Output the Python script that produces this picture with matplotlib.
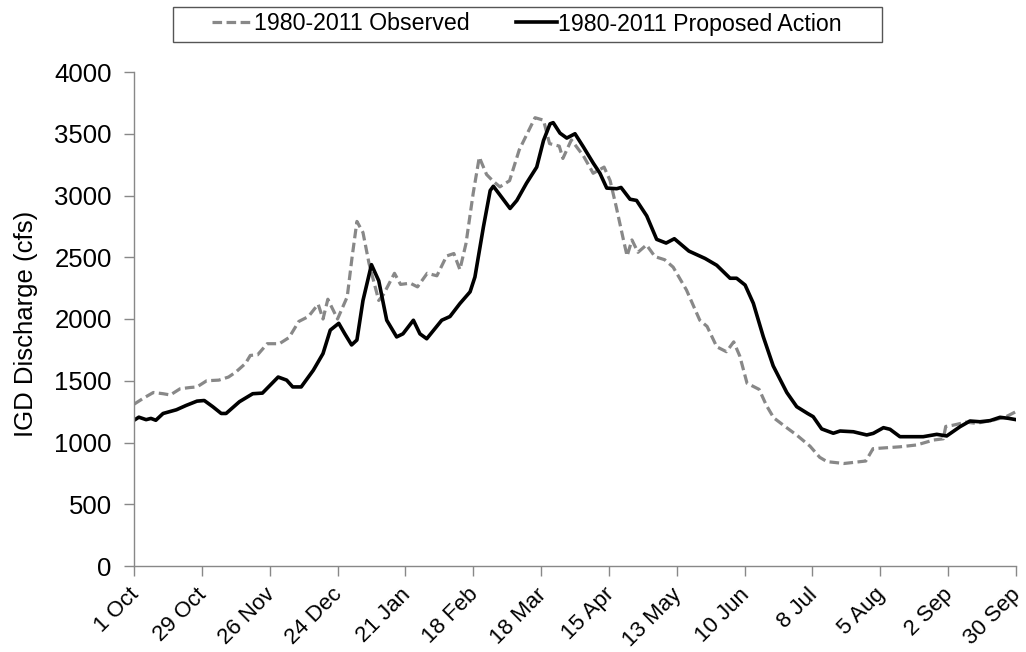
import matplotlib
matplotlib.use("Agg")
import matplotlib.pyplot as plt
from matplotlib.patches import Rectangle
from matplotlib.transforms import ScaledTranslation

# ---- data (day of water year, cfs) ----
obs_days = [0, 4, 8, 12, 15, 19, 23, 26, 30, 35, 39, 42, 46, 48, 51, 55, 60, 64, 68, 72,
            76, 78, 80, 84, 88, 90, 92, 94.5, 97, 99, 101, 103, 107.5, 110, 114, 117, 121,
            125, 129, 132, 134.5, 137, 140, 142.5, 145.5, 148, 151, 155, 159, 163, 165.5,
            169, 171.5, 175.5, 177, 180.5, 185.5, 189.5, 194, 196.5, 199, 202, 203.5,
            205.5, 208, 211.5, 215, 219, 222.5, 228, 233.5, 236.5, 240.5, 244.5, 247.5,
            250, 253, 258, 261, 264, 269, 273.5, 279, 283, 286, 293, 302, 305, 316, 323,
            330, 334, 335, 338, 343.5, 347.5, 354.5, 360, 364]
obs_vals = [1310, 1360, 1405, 1395, 1385, 1435, 1445, 1450, 1500, 1505, 1530, 1570, 1640,
            1705, 1710, 1800, 1800, 1850, 1980, 2020, 2120, 2000, 2160, 2000, 2180, 2500,
            2790, 2700, 2450, 2300, 2150, 2200, 2370, 2280, 2290, 2260, 2370, 2350, 2510,
            2530, 2400, 2610, 3020, 3310, 3170, 3120, 3070, 3120, 3370, 3530, 3630, 3610,
            3420, 3400, 3300, 3450, 3320, 3180, 3230, 3120, 2910, 2640, 2510, 2640, 2540,
            2600, 2505, 2480, 2420, 2235, 1990, 1940, 1775, 1735, 1815, 1700, 1480, 1430,
            1300, 1200, 1125, 1060, 970, 880, 845, 830, 850, 950, 965, 980, 1020, 1030,
            1130, 1140, 1165, 1155, 1180, 1210, 1250]

prop_days = [0, 2, 5, 7, 9, 12, 17.5, 21.5, 26, 29, 32.5, 36, 38, 43.5, 49, 53, 56, 59.5,
             63, 65.5, 69, 74, 78, 81, 84.5, 87, 89.8, 92, 94.5, 98, 101, 104.3, 108.4,
             111, 115.3, 118, 120.8, 127, 130.4, 134.5, 138.7, 140.7, 144.2, 147, 148.3,
             151, 155.2, 158, 162, 166.2, 169, 171.7, 173, 175.8, 178.6, 182, 185.4,
             189.6, 192.3, 195.1, 199.2, 201, 204.7, 207.4, 211.6, 215.7, 219.6, 223, 229,
             235.7, 240.5, 246, 248.7, 252.2, 255.6, 259.7, 263.8, 269.4, 273.5, 278,
             280.3, 283.8, 288.6, 291.4, 296.9, 302.4, 305.1, 309.3, 312, 316.1, 325.7,
             331.3, 335.4, 340.9, 345, 349.1, 353.3, 357.4, 360.8, 364]
prop_vals = [1180, 1205, 1185, 1195, 1180, 1235, 1265, 1300, 1335, 1340, 1290, 1235, 1235,
             1330, 1395, 1400, 1460, 1530, 1505, 1450, 1450, 1585, 1720, 1910, 1965, 1880,
             1790, 1830, 2150, 2440, 2310, 1990, 1855, 1880, 1990, 1880, 1840, 1990, 2020,
             2125, 2220, 2340, 2745, 3040, 3075, 3005, 2895, 2960, 3100, 3230, 3445, 3580,
             3590, 3505, 3465, 3500, 3395, 3260, 3180, 3060, 3055, 3065, 2970, 2960, 2835,
             2645, 2615, 2650, 2550, 2490, 2435, 2330, 2330, 2275, 2127, 1857, 1620, 1405,
             1290, 1235, 1209, 1110, 1075, 1093, 1087, 1061, 1074, 1120, 1107, 1047, 1047,
             1066, 1053, 1128, 1174, 1168, 1177, 1204, 1196, 1185]

tick_days = [0, 28, 56, 84, 112, 140, 168, 196, 224, 252, 280, 308, 336, 364]
tick_labels = ["1 Oct", "29 Oct", "26 Nov", "24 Dec", "21 Jan", "18 Feb", "18 Mar",
               "15 Apr", "13 May", "10 Jun", "8 Jul", "5 Aug", "2 Sep", "30 Sep"]
y_ticks = [0, 500, 1000, 1500, 2000, 2500, 3000, 3500, 4000]

plt.rcParams['font.family'] = ['Liberation Sans', 'DejaVu Sans']

W, H = 1026, 652
fig = plt.figure(figsize=(W / 100, H / 100), dpi=100)
ax = fig.add_axes([134 / W, 1 - 566 / H, (1016 - 134) / W, (566 - 72) / H])

ax.plot(obs_days, obs_vals, color='#888888', lw=2.3, dashes=(3, 1.4),
        dash_capstyle='butt', label='1980-2011 Observed')
ax.plot(prop_days, prop_vals, color='black', lw=2.6, solid_joinstyle='round',
        label='1980-2011 Proposed Action')

ax.set_xlim(0, 364)
ax.set_ylim(0, 4000)
ax.set_xticks(tick_days)
ax.set_xticklabels(tick_labels, rotation=45, ha='right', va='top',
                   rotation_mode='anchor', fontsize=16)
ax.set_yticks(y_ticks)
ax.set_yticklabels([str(v) for v in y_ticks], fontsize=18.5)
ax.tick_params(axis='both', direction='out', length=7, width=1, color='#888888')
ax.tick_params(axis='y', pad=9)
ax.tick_params(axis='x', pad=6)

shift = ScaledTranslation(-4 / 72, 0, fig.dpi_scale_trans)
for lab in ax.get_xticklabels():
    lab.set_transform(lab.get_transform() + shift)

for s in ['top', 'right']:
    ax.spines[s].set_visible(False)
for s in ['left', 'bottom']:
    ax.spines[s].set_color('#888888')
    ax.spines[s].set_linewidth(1)

ax.set_ylabel('IGD Discharge (cfs)', fontsize=18.5)
ax.yaxis.set_label_coords(-0.109, 0.49)

leg = fig.legend(loc='center', bbox_to_anchor=(527 / W, 1 - 24 / H), ncol=2,
                 fontsize=16.7, frameon=False, handlelength=1.75,
                 handletextpad=0.05, columnspacing=2.0, borderpad=0.3)

# legend frame (wider than matplotlib's own padding allows)
fig.patches.append(Rectangle((173 / W, 1 - 42 / H), (882 - 173) / W, 35 / H,
                             transform=fig.transFigure, fill=False,
                             edgecolor='#555555', linewidth=1, zorder=0))

fig.savefig('out.png', dpi=100)
